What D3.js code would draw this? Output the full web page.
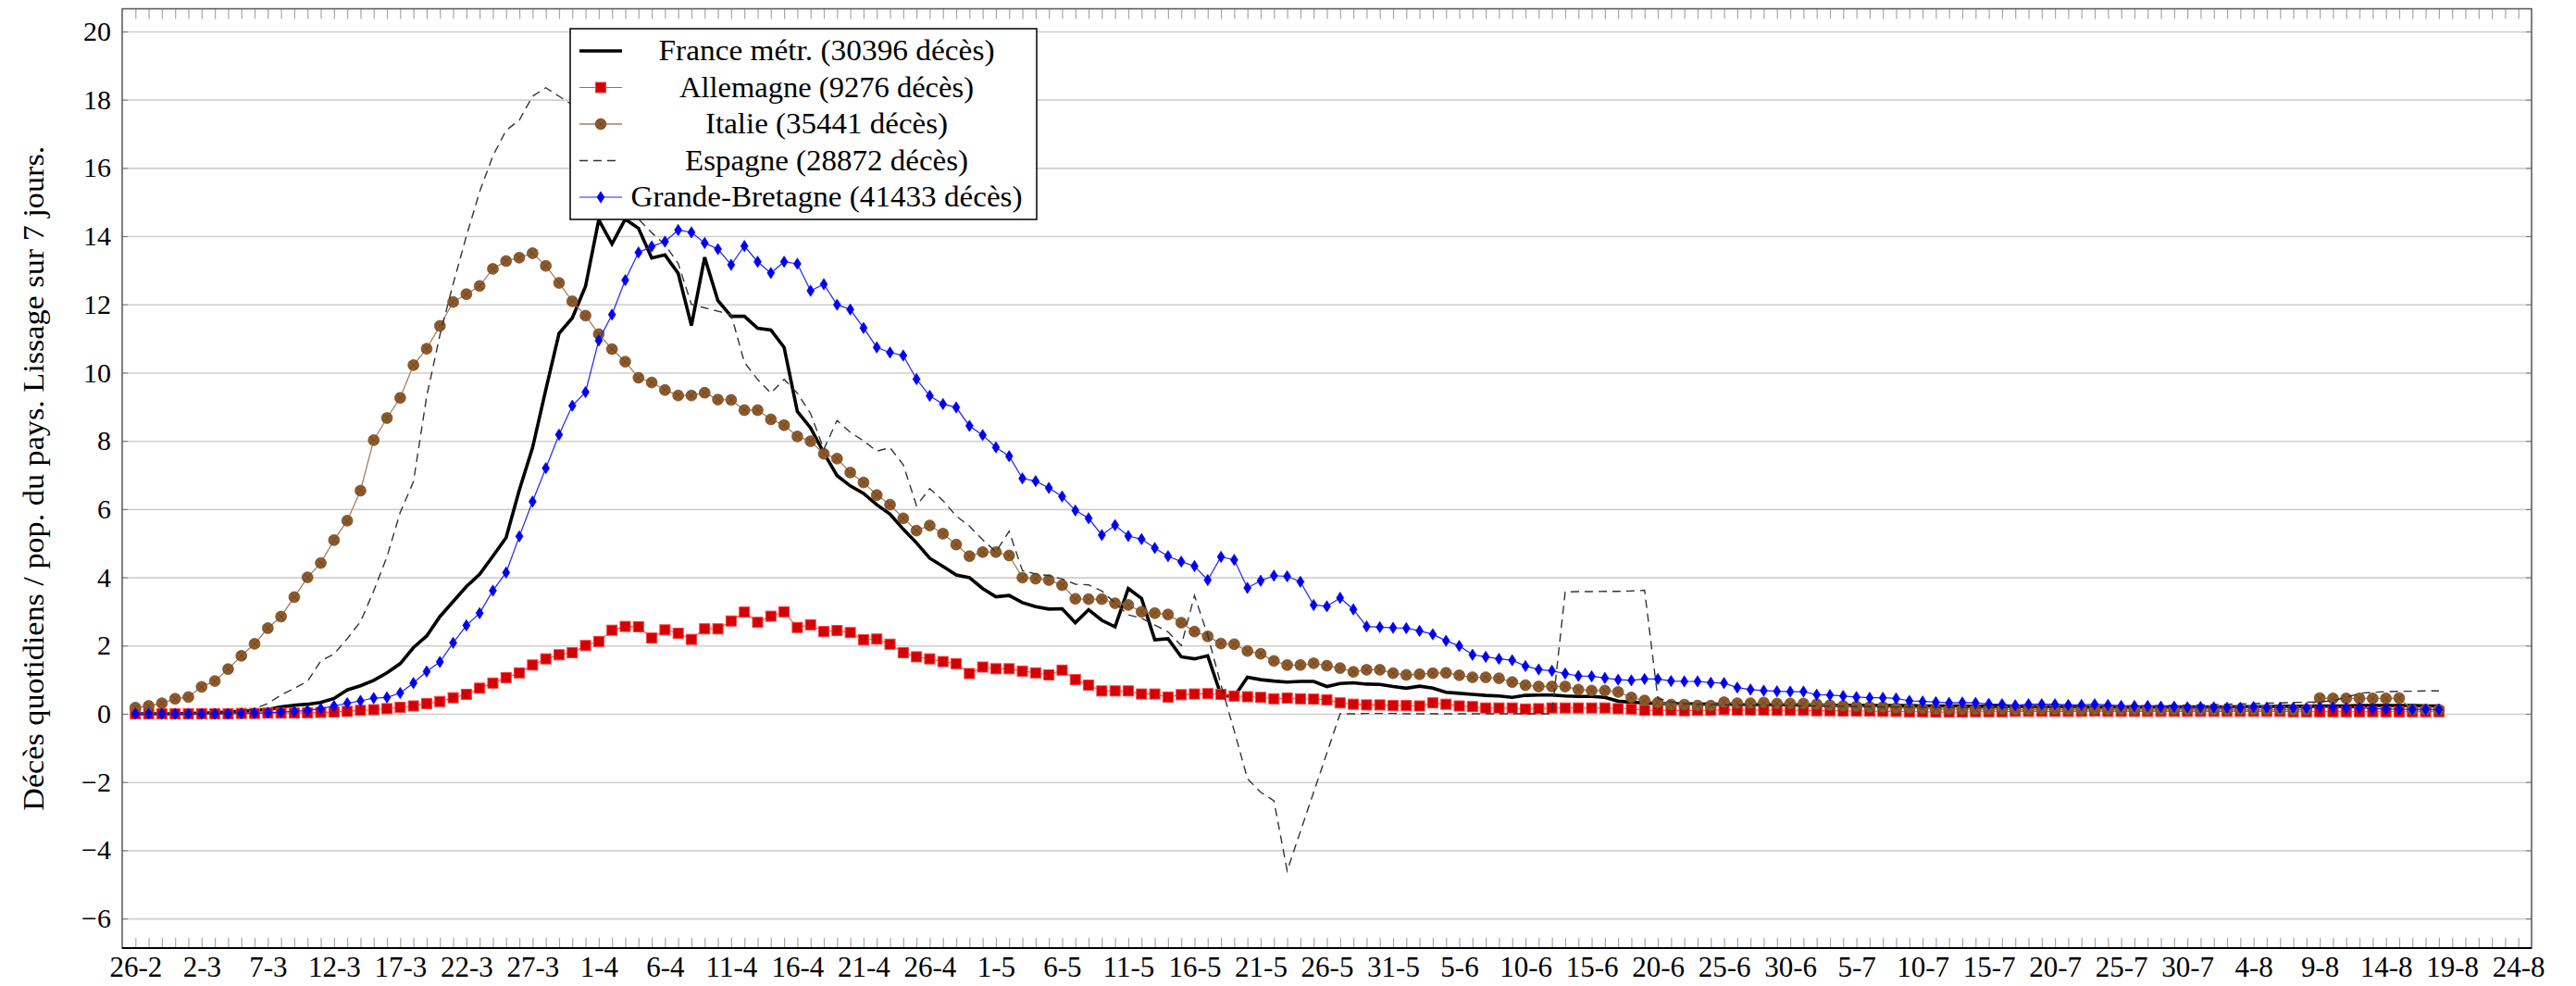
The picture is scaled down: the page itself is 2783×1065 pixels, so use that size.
<!DOCTYPE html>
<html>
<head>
<meta charset="utf-8">
<script src="https://cdn.jsdelivr.net/npm/d3@7"></script>
<style>
  body { margin: 0; background: #fff; }
  svg { display: block; }
  text { font-family: "Liberation Serif", "DejaVu Serif", serif; fill: #000; }
</style>
</head>
<body>
<script>
// day 0 = 26-2 ; one value per day, 7-day smoothed deaths per country
var xLabels = ["26-2","2-3","7-3","12-3","17-3","22-3","27-3","1-4","6-4","11-4","16-4","21-4","26-4",
  "1-5","6-5","11-5","16-5","21-5","26-5","31-5","5-6","10-6","15-6","20-6","25-6","30-6",
  "5-7","10-7","15-7","20-7","25-7","30-7","4-8","9-8","14-8","19-8","24-8"];

var yTicks = [-6, -4, -2, 0, 2, 4, 6, 8, 10, 12, 14, 16, 18, 20];

var france = [0,0,0,0,0.01,0.02,0.03,0.05,0.07,0.1,
  0.13,0.2,0.25,0.28,0.33,0.45,0.7,0.82,0.98,1.2,
  1.47,1.94,2.28,2.85,3.29,3.73,4.09,4.62,5.16,6.56,
  7.8,9.5,11.15,11.6,12.53,14.48,13.77,14.5,14.23,13.36,
  13.45,12.91,11.38,13.38,12.11,11.65,11.65,11.3,11.25,10.74,
  8.86,8.38,7.65,6.98,6.68,6.46,6.13,5.85,5.41,5.01,
  4.56,4.32,4.07,3.99,3.67,3.43,3.47,3.26,3.14,3.07,
  3.08,2.67,3.05,2.74,2.55,3.67,3.38,2.17,2.2,1.67,
  1.61,1.7,0.55,0.5,1.07,1.0,0.96,0.93,0.95,0.95,
  0.8,0.89,0.91,0.87,0.86,0.8,0.75,0.81,0.75,0.63,
  0.6,0.57,0.54,0.52,0.48,0.54,0.55,0.55,0.52,0.51,
  0.51,0.48,0.37,0.34,0.32,0.3,0.3,0.29,0.29,0.28,
  0.28,0.28,0.27,0.27,0.27,0.26,0.26,0.26,0.25,0.25,
  0.25,0.24,0.24,0.24,0.24,0.23,0.23,0.23,0.23,0.22,
  0.22,0.22,0.22,0.21,0.21,0.21,0.21,0.2,0.2,0.2,
  0.2,0.2,0.2,0.2,0.2,0.2,0.2,0.2,0.2,0.21,
  0.21,0.21,0.22,0.22,0.22,0.23,0.23,0.23,0.24,0.24,
  0.24,0.24,0.24,0.23,0.23];

var germany = [0,0,0,0,0,0,0,0,0.01,0.01,
  0.02,0.02,0.02,0.03,0.04,0.05,0.07,0.1,0.12,0.15,
  0.19,0.23,0.3,0.36,0.47,0.57,0.75,0.9,1.06,1.2,
  1.43,1.61,1.73,1.79,2.0,2.12,2.45,2.56,2.55,2.22,
  2.46,2.36,2.18,2.49,2.49,2.72,2.98,2.68,2.86,2.99,
  2.53,2.61,2.41,2.44,2.38,2.17,2.19,2.04,1.79,1.67,
  1.61,1.53,1.47,1.18,1.37,1.32,1.32,1.25,1.2,1.14,
  1.28,1.0,0.84,0.67,0.67,0.67,0.58,0.58,0.49,0.56,
  0.58,0.59,0.57,0.52,0.5,0.48,0.44,0.46,0.44,0.43,
  0.41,0.32,0.28,0.26,0.26,0.24,0.24,0.23,0.32,0.28,
  0.23,0.21,0.17,0.17,0.17,0.14,0.15,0.17,0.17,0.17,
  0.17,0.17,0.15,0.14,0.1,0.1,0.1,0.09,0.1,0.1,
  0.12,0.11,0.11,0.11,0.1,0.1,0.1,0.09,0.09,0.08,
  0.08,0.08,0.07,0.07,0.06,0.06,0.05,0.05,0.05,0.06,
  0.06,0.06,0.07,0.07,0.07,0.07,0.07,0.07,0.08,0.07,
  0.07,0.07,0.07,0.07,0.07,0.07,0.07,0.07,0.07,0.07,
  0.07,0.07,0.07,0.06,0.06,0.06,0.06,0.06,0.06,0.06,
  0.06,0.06,0.06,0.06,0.06];

var italy = [0.18,0.23,0.31,0.44,0.49,0.79,0.96,1.31,1.7,2.05,
  2.51,2.85,3.42,4.0,4.42,5.09,5.66,6.54,8.02,8.67,
  9.26,10.22,10.7,11.37,12.07,12.3,12.54,13.04,13.27,13.37,
  13.5,13.13,12.63,12.09,11.67,11.13,10.69,10.32,9.85,9.71,
  9.49,9.33,9.33,9.41,9.21,9.2,8.9,8.9,8.63,8.46,
  8.13,7.99,7.62,7.48,7.07,6.78,6.41,6.13,5.73,5.37,
  5.52,5.28,4.96,4.62,4.74,4.74,4.64,3.99,3.96,3.92,
  3.77,3.37,3.36,3.36,3.24,3.19,2.99,2.95,2.91,2.67,
  2.41,2.27,2.06,2.04,1.84,1.76,1.55,1.43,1.43,1.48,
  1.41,1.34,1.23,1.29,1.29,1.19,1.14,1.16,1.19,1.2,
  1.13,1.07,1.07,1.04,0.93,0.84,0.8,0.8,0.8,0.71,
  0.68,0.68,0.64,0.48,0.39,0.33,0.27,0.27,0.24,0.24,
  0.34,0.31,0.31,0.33,0.3,0.3,0.3,0.28,0.25,0.23,
  0.22,0.2,0.2,0.17,0.17,0.16,0.14,0.14,0.13,0.13,
  0.13,0.13,0.12,0.12,0.13,0.13,0.12,0.12,0.12,0.12,
  0.12,0.12,0.11,0.11,0.12,0.12,0.11,0.11,0.11,0.12,
  0.12,0.12,0.12,0.12,0.12,0.46,0.45,0.45,0.45,0.45,
  0.45,0.46,0.12,0.12,0.12];

var spain = [0,0,0,0,0,0,0.01,0.02,0.05,0.15,
  0.3,0.55,0.75,0.95,1.55,1.75,2.2,2.7,3.6,4.6,
  5.9,6.8,9.3,11.1,12.6,14.0,15.3,16.35,17.1,17.4,
  18.1,18.35,18.1,17.85,17.3,16.6,15.8,15.1,14.5,14.1,
  13.75,13.2,12.0,11.9,11.8,11.7,10.3,9.8,9.4,9.8,
  9.4,8.8,7.75,8.6,8.25,8.0,7.7,7.8,7.3,6.1,
  6.6,6.25,5.8,5.5,5.1,4.75,5.35,4.2,4.1,4.05,
  3.95,3.8,3.78,3.6,3.25,2.9,2.8,2.6,2.4,2.0,
  3.47,2.3,0.85,-0.5,-1.9,-2.3,-2.55,-4.6,-3.45,-2.3,
  -1.15,0.0,0.0,0.01,0.01,0.01,0.0,0.0,0.0,0.0,
  0.0,0.0,0.0,0.0,0.0,0.0,0.0,0.0,3.57,3.58,
  3.58,3.59,3.59,3.6,3.62,0.45,0.35,0.3,0.28,0.27,
  0.26,0.26,0.25,0.25,0.24,0.24,0.23,0.23,0.22,0.22,
  0.21,0.21,0.2,0.2,0.2,0.19,0.19,0.19,0.18,0.18,
  0.18,0.18,0.18,0.19,0.19,0.2,0.2,0.21,0.22,0.22,
  0.23,0.23,0.24,0.24,0.25,0.25,0.26,0.27,0.28,0.29,
  0.3,0.31,0.32,0.33,0.34,0.35,0.38,0.48,0.6,0.63,
  0.65,0.66,0.66,0.67,0.67];

var uk = [0,0,0,0,0,0,0,0,0.01,0.02,
  0.03,0.05,0.07,0.1,0.15,0.23,0.31,0.38,0.46,0.48,
  0.61,0.9,1.24,1.52,2.08,2.59,2.95,3.61,4.14,5.2,
  6.22,7.2,8.18,9.03,9.43,10.94,11.7,12.71,13.52,13.7,
  13.84,14.18,14.11,13.8,13.62,13.16,13.71,13.25,12.92,13.25,
  13.19,12.4,12.59,11.99,11.85,11.31,10.74,10.59,10.5,9.81,
  9.32,9.08,8.98,8.44,8.17,7.81,7.55,6.9,6.82,6.62,
  6.37,5.96,5.73,5.24,5.53,5.21,5.12,4.86,4.62,4.46,
  4.33,3.92,4.6,4.51,3.69,3.9,4.05,4.03,3.87,3.19,
  3.15,3.4,3.06,2.56,2.54,2.52,2.51,2.43,2.33,2.14,
  1.99,1.73,1.67,1.61,1.57,1.4,1.3,1.26,1.18,1.11,
  1.1,1.05,1.0,0.98,1.02,1.02,0.96,0.95,0.95,0.91,
  0.9,0.77,0.71,0.68,0.66,0.65,0.65,0.56,0.55,0.52,
  0.49,0.47,0.47,0.45,0.38,0.36,0.34,0.32,0.33,0.32,
  0.29,0.28,0.25,0.28,0.28,0.28,0.26,0.26,0.28,0.26,
  0.23,0.23,0.23,0.21,0.21,0.19,0.2,0.19,0.18,0.18,
  0.2,0.18,0.18,0.18,0.17,0.19,0.19,0.17,0.17,0.15,
  0.14,0.13,0.13,0.13,0.12];

var legendNames = ["France métr. (30396 décès)", "Allemagne (9276 décès)", "Italie (35441 décès)",
  "Espagne (28872 décès)", "Grande-Bretagne (41433 décès)"];
// widths of the legend strings as typeset in the original (LaTeX fonts run wider)
var legendWidths = [363, 318, 262, 306, 423];

width = 2783
height = 1065
var margin = {left: 132, right: 2735, top: 9.5, bottom: 1024};
var serif = "'Liberation Serif', 'DejaVu Serif', serif";

var x = d3.scaleLinear().domain([-1, 181]).range([margin.left, margin.right]);
var y = d3.scaleLinear().domain([-6.866, 20.664]).range([margin.bottom, margin.top]);

var svg = d3.select("body").append("svg")
    .attr("width", width)
    .attr("height", height);

// grid
svg.append("g")
    .attr("transform", `translate(${margin.left},0)`)
    .call(d3.axisLeft(y).tickValues(yTicks).tickSize(-(margin.right - margin.left)).tickFormat(""))
    .call(g => g.select(".domain").remove())
    .call(g => g.selectAll("line").attr("stroke", "#cfcfcf").attr("stroke-width", 1.6));

// day ticks, bottom and top
svg.append("g")
    .attr("transform", `translate(0,${margin.bottom})`)
    .call(d3.axisBottom(x).tickValues(d3.range(0, 181)).tickSize(-11).tickFormat(""))
    .call(g => g.select(".domain").remove())
    .call(g => g.selectAll("line").attr("stroke", "#a8a8a8").attr("stroke-width", 1.2));
svg.append("g")
    .attr("transform", `translate(0,${margin.top})`)
    .call(d3.axisTop(x).tickValues(d3.range(0, 181)).tickSize(-11).tickFormat(""))
    .call(g => g.select(".domain").remove())
    .call(g => g.selectAll("line").attr("stroke", "#a8a8a8").attr("stroke-width", 1.2));

// x labels
svg.append("g")
    .attr("transform", `translate(0,${margin.bottom})`)
    .call(d3.axisBottom(x).tickValues(d3.range(0, 181, 5)).tickSize(0).tickPadding(9)
      .tickFormat((d, i) => xLabels[i]))
    .call(g => g.select(".domain").remove())
    .call(g => g.selectAll("text").attr("font-size", 31).attr("font-family", serif));

// y ticks + labels
svg.append("g")
    .attr("transform", `translate(${margin.left},0)`)
    .call(d3.axisLeft(y).tickValues(yTicks).tickSize(-6).tickPadding(12)
      .tickFormat(d => d < 0 ? "\u2212" + (-d) : d))
    .call(g => g.select(".domain").remove())
    .call(g => g.selectAll("line").attr("stroke", "#777"))
    .call(g => g.selectAll("text").attr("font-size", 30).attr("font-family", serif));
svg.append("g")
    .attr("transform", `translate(${margin.right},0)`)
    .call(d3.axisRight(y).tickValues(yTicks).tickSize(-6).tickFormat(""))
    .call(g => g.select(".domain").remove())
    .call(g => g.selectAll("line").attr("stroke", "#777"));

svg.append("text")
    .attr("transform", `translate(47,${(margin.top + margin.bottom) / 2}) rotate(-90)`)
    .attr("text-anchor", "middle")
    .attr("font-family", serif)
    .attr("font-size", 32)
    .attr("textLength", 718)
    .attr("lengthAdjust", "spacingAndGlyphs")
    .text("Décès quotidiens / pop. du pays. Lissage sur 7 jours.");

// markers
function square(g) {
  g.append("rect").attr("x", -5.5).attr("y", -5.5).attr("width", 11).attr("height", 11)
    .attr("fill", "#d20000").attr("stroke", "#ff3a3a").attr("stroke-width", 1);
}
function otimes(g) {
  g.append("circle").attr("r", 5.9).attr("fill", "#8e5b2d").attr("stroke", "#7a4b22").attr("stroke-width", 0.8);
  g.append("path").attr("d", "M-4,-4L4,4M-4,4L4,-4").attr("stroke", "#5e3a18").attr("stroke-width", 0.7);
}
function diamond(g) {
  g.append("path").attr("d", "M0,-6.2L4,0L0,6.2L-4,0Z").attr("fill", "#0000f0").attr("stroke", "#0000ff").attr("stroke-width", 0.6);
}

var series = [
  {values: france, stroke: "#000", width: 3.6, dash: null, mark: null},
  {values: germany, stroke: "#ff4040", width: 1.1, dash: null, mark: square},
  {values: italy, stroke: "#a2805e", width: 1.3, dash: null, mark: otimes},
  {values: spain, stroke: "#333", width: 1.4, dash: "9,6", mark: null},
  {values: uk, stroke: "#2020ff", width: 1.2, dash: null, mark: diamond}
];

var line = d3.line().x((d, i) => x(i)).y(d => y(d));

series.forEach(function(s) {
  svg.append("path")
      .attr("d", line(s.values))
      .attr("fill", "none")
      .attr("stroke", s.stroke)
      .attr("stroke-width", s.width)
      .attr("stroke-dasharray", s.dash)
      .attr("stroke-linejoin", "miter");
  if (s.mark) {
    svg.append("g").selectAll("g")
      .data(s.values)
      .join("g")
        .attr("transform", (d, i) => `translate(${x(i)},${y(d)})`)
        .each(function() { s.mark(d3.select(this)); });
  }
});

// frame
svg.append("rect")
    .attr("x", margin.left).attr("y", margin.top)
    .attr("width", margin.right - margin.left).attr("height", margin.bottom - margin.top)
    .attr("fill", "none").attr("stroke", "#555").attr("stroke-width", 1.5);
svg.append("line")
    .attr("x1", margin.left).attr("x2", margin.right)
    .attr("y1", margin.bottom).attr("y2", margin.bottom)
    .attr("stroke", "#000").attr("stroke-width", 2);

// legend
var legend = svg.append("g");
legend.append("rect")
    .attr("x", 616).attr("y", 31).attr("width", 504).attr("height", 206)
    .attr("fill", "#fff").attr("stroke", "#000").attr("stroke-width", 1.5);

var row = legend.selectAll("g.row")
  .data(series)
  .join("g")
    .attr("class", "row")
    .attr("transform", (d, i) => `translate(0,${55 + i * 39.5})`);

row.append("line")
    .attr("x1", 626).attr("x2", (d, i) => i == 3 ? 668 : 672)
    .attr("stroke", d => d.stroke)
    .attr("stroke-width", d => d.width)
    .attr("stroke-dasharray", d => d.dash);
row.filter(d => d.mark).append("g")
    .attr("transform", "translate(649,0)")
    .each(function(d) { d.mark(d3.select(this)); });
row.append("text")
    .attr("x", 893).attr("y", 10)
    .attr("text-anchor", "middle")
    .attr("font-family", serif)
    .attr("font-size", 31)
    .attr("textLength", (d, i) => legendWidths[i])
    .attr("lengthAdjust", "spacingAndGlyphs")
    .text((d, i) => legendNames[i]);
</script>
</body>
</html>
